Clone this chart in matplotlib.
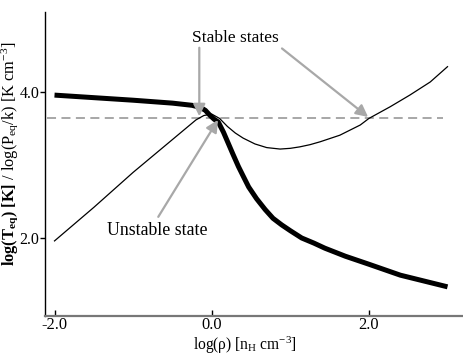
import matplotlib
matplotlib.use("Agg")
import matplotlib.pyplot as plt

plt.rcParams['font.family'] = ['Liberation Serif', 'DejaVu Serif']
plt.rcParams['mathtext.fontset'] = 'custom'
plt.rcParams['mathtext.rm'] = 'Liberation Serif'
plt.rcParams['mathtext.it'] = 'Liberation Serif:italic'
plt.rcParams['mathtext.bf'] = 'Liberation Serif:bold'
plt.rcParams['axes.unicode_minus'] = False

# thick curve: log(T_eq)
logrho_T = [-2.0, -1.5, -1.0, -0.5, -0.25, -0.14, -0.08, -0.02, 0.03, 0.084,
            0.15, 0.21, 0.27, 0.34, 0.40, 0.47, 0.57, 0.68, 0.78, 0.89,
            1.0, 1.145, 1.3, 1.44, 1.70, 2.0, 2.4, 2.7, 3.0]
logT = [3.96, 3.925, 3.89, 3.85, 3.82, 3.79, 3.75, 3.68, 3.63, 3.59,
        3.45, 3.30, 3.15, 2.98, 2.85, 2.70, 2.54, 2.39, 2.27, 2.18,
        2.10, 2.00, 1.93, 1.86, 1.75, 1.64, 1.49, 1.41, 1.33]

# thin curve: log(P_eq/k)
logrho_P = [-2.0, -1.5, -1.0, -0.5, -0.2, -0.1, 0.0, 0.1, 0.2, 0.3,
            0.4, 0.55, 0.7, 0.87, 1.0, 1.12, 1.25, 1.38, 1.63, 1.89,
            2.0, 2.27, 2.52, 2.78, 3.0]
logP = [1.96, 2.42, 2.90, 3.35, 3.62, 3.68, 3.70, 3.64, 3.53, 3.44,
        3.37, 3.29, 3.24, 3.22, 3.23, 3.25, 3.28, 3.32, 3.41, 3.55,
        3.64, 3.80, 3.96, 4.14, 4.35]

# equilibrium pressure level (dashed)
P_level = 3.64
P_level_range = [-2.10, 2.94]

xticks = [-2.0, 0.0, 2.0]
xticklabels = ["-2.0", "0.0", "2.0"]
yticks = [2.0, 4.0]
yticklabels = ["2.0", "4.0"]

# annotations
stable_label = "Stable states"
stable_text_pos = (0.30, 4.75)
stable_arrows = [((-0.158, 4.61), (-0.158, 3.67)), ((0.894, 4.60), (1.99, 3.66))]
unstable_label = "Unstable state"
unstable_text_pos = (-0.69, 2.10)
unstable_arrows = [((-0.68, 2.29), (0.08, 3.62))]

fig = plt.figure(figsize=(4.63, 3.54), dpi=100)
ax = fig.add_axes([45 / 463, 1 - 316 / 354, 418 / 463, 304 / 354])

ax.plot(P_level_range, [P_level, P_level], color='#a0a0a0', lw=1.3,
        dashes=(5, 3), zorder=1)
ax.plot(logrho_P, logP, color='black', lw=0.9, zorder=2)
ax.plot(logrho_T, logT, color='black', lw=3.6, solid_capstyle='butt',
        solid_joinstyle='round', zorder=3)

arrow_kw = dict(arrowstyle='-|>,head_length=0.6,head_width=0.3', color='#a8a8a8',
                lw=1.6, mutation_scale=12, shrinkA=0, shrinkB=0)
for tail, tip in stable_arrows + unstable_arrows:
    ax.annotate('', xy=tip, xytext=tail, arrowprops=arrow_kw, zorder=4)

ax.text(*stable_text_pos, stable_label, fontsize=12.5, ha='center', va='center')
ax.text(*unstable_text_pos, unstable_label, fontsize=12.8, ha='center', va='center')

ax.set_xlim(-2.121, 3.197)
ax.set_ylim(0.93, 5.10)
ax.set_xticks(xticks)
ax.set_xticklabels(xticklabels)
ax.set_yticks(yticks)
ax.set_yticklabels(yticklabels)
ax.tick_params(axis='x', direction='in', length=4, width=1, labelsize=11.8, pad=1)
ax.tick_params(axis='y', direction='out', length=3.5, width=1, labelsize=11.5, pad=0.5)

for s in ['top', 'right']:
    ax.spines[s].set_visible(False)
ax.spines['bottom'].set_color('#777777')
ax.spines['bottom'].set_linewidth(1.6)
ax.spines['left'].set_linewidth(1.0)

ax.set_xlabel(r"log(ρ) [n$_{\mathrm{H}}$ cm$^{-3}$]", fontsize=11.2)
ax.xaxis.set_label_coords(0.478, -0.060)
ax.set_ylabel(r"$\mathbf{log(T}_{\mathbf{eq}}\mathbf{)\ [K]}$ / log(P$_{\mathrm{eq}}$/k) [K cm$^{-3}$]",
              fontsize=11.8)
ax.yaxis.set_label_coords(-0.059, 0.533)

fig.savefig("out.png", dpi=100)
